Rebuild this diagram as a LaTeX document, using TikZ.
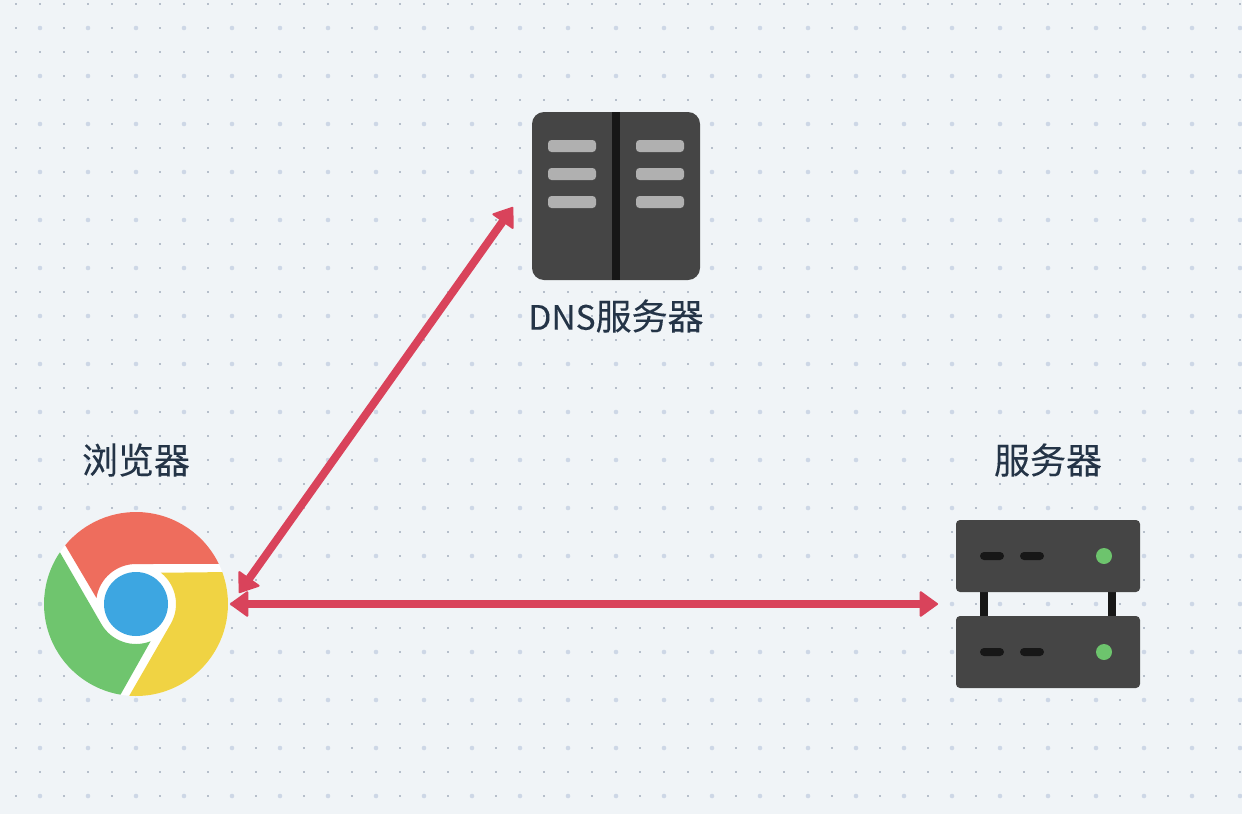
\documentclass[tikz,border=0pt]{standalone}
\usepackage{fontspec}
\setmainfont[FakeBold=0.12]{Noto Sans CJK SC}
\usetikzlibrary{arrows.meta}
\definecolor{pagebg}{HTML}{F0F4F7}
\definecolor{dotsmall}{HTML}{B6BFCB}
\definecolor{dotbig}{HTML}{CDD7E6}
\definecolor{ink}{HTML}{243447}
\definecolor{link}{HTML}{D9435B}
\definecolor{body}{HTML}{454545}
\definecolor{slot}{HTML}{171717}
\definecolor{bar}{HTML}{B0B0B0}
\definecolor{lamp}{HTML}{6DC46D}
\definecolor{chred}{HTML}{EE6D5D}
\definecolor{chgreen}{HTML}{6FC56E}
\definecolor{chyellow}{HTML}{F0D343}
\definecolor{chblue}{HTML}{3DA6E1}
\tikzset{
  caption/.style={text=ink,font=\fontsize{36}{40}\selectfont,inner sep=0pt},
  linkhead/.tip={Triangle[length=19pt,width=27pt,round,line width=2pt]},
  linkarrow/.style={draw=link,line width=8pt,linkhead-linkhead},
}
\begin{document}
\begin{tikzpicture}[x=1pt,y=-1pt]
\useasboundingbox (0,0) rectangle (1242,814);
\fill[pagebg] (0,0) rectangle (1242,814);
% dots
\foreach \i in {0,...,51}{
  \foreach \j in {0,...,33}{
    \pgfmathsetmacro{\dx}{16+24*\i}
    \pgfmathsetmacro{\dy}{4+24*\j}
    \fill[dotsmall] (\dx-1.1,\dy-1.1) rectangle (\dx+1.1,\dy+1.1);
  }
}
\foreach \i in {0,...,25}{
  \foreach \j in {0,...,16}{
    \pgfmathsetmacro{\dx}{40+48*\i}
    \pgfmathsetmacro{\dy}{28+48*\j}
    \fill[dotbig] (\dx,\dy) circle[radius=2.3];
  }
}
% browser icon
\node[circle,minimum size=184pt,inner sep=0pt,outer sep=0pt,fill=white] (browser) at (136,604) {};
\begin{scope}[shift={(136,604)},y=1pt]
  \foreach \r/\c in {0/chred,120/chgreen,240/chyellow}{
    \fill[\c,rotate=\r] (25.8:92) arc[start angle=25.8,end angle=140.3,radius=92]
      -- (171.4:40) arc[start angle=171.4,end angle=90,radius=40] -- cycle;
  }
  \fill[chblue] (0,0) circle[radius=32];
\end{scope}
% dns icon
\node[minimum width=168pt,minimum height=168pt,inner sep=0pt,outer sep=0pt,fill=body,rounded corners=12pt] (dns) at (616,196) {};
\fill[slot] (612,112) rectangle (620,280);
\foreach \bx in {548,636}{
  \foreach \by in {140,168,196}{
    \fill[bar,rounded corners=3.5pt] (\bx,\by) rectangle ++(48,12);
  }
}
% server icon
\node[minimum width=184pt,minimum height=168pt,inner sep=0pt,outer sep=0pt] (server) at (1048,604) {};
\fill[slot] (980,590) rectangle (988,618);
\fill[slot] (1108,590) rectangle (1116,618);
\foreach \sy in {520,616}{
  \fill[body,rounded corners=4pt] (956,\sy) rectangle (1140,\sy+72);
  \fill[slot,rounded corners=4pt] (980,\sy+32) rectangle (1004,\sy+40);
  \fill[slot,rounded corners=4pt] (1020,\sy+32) rectangle (1044,\sy+40);
  \fill[lamp] (1104,\sy+36) circle[radius=8];
}
% captions
\node[caption] (lblbrowser) at (136,460) {浏览器};
\node[caption] (lbldns) at (616,316) {{\fontsize{33.5}{40}\selectfont DNS}服务器};
\node[caption] (lblserver) at (1048,460) {服务器};
% connectors
\coordinate (dnsport) at (513,207);
\coordinate (browserport) at (239,593);
\draw[linkarrow] (browserport) -- (dnsport);
\coordinate (browsereast) at (230,604);
\coordinate (serverwest) at (938,604);
\draw[linkarrow] (browsereast) -- (serverwest);
\end{tikzpicture}
\end{document}
